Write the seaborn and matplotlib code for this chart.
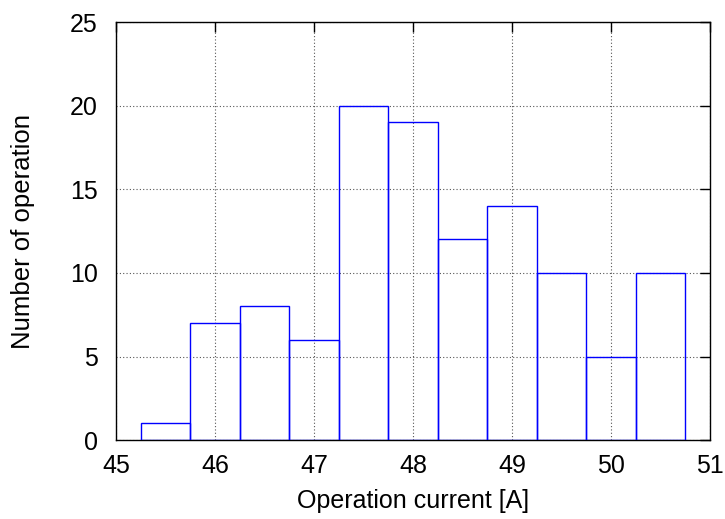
import matplotlib
matplotlib.use("Agg")
import matplotlib.pyplot as plt
import seaborn as sns

# Histogram of operation current: bin edges and counts per bin
bin_edges = [45.25, 45.75, 46.25, 46.75, 47.25, 47.75, 48.25, 48.75, 49.25, 49.75, 50.25, 50.75]
counts = [1, 7, 8, 6, 20, 19, 12, 14, 10, 5, 10]
x_ticks = [45, 46, 47, 48, 49, 50, 51]
y_ticks = [0, 5, 10, 15, 20, 25]

sns.set_theme(style="white")
plt.rcParams["font.family"] = ["Liberation Sans", "DejaVu Sans"]
plt.rcParams["text.color"] = "black"
plt.rcParams["axes.labelcolor"] = "black"

centers = [(a + b) / 2 for a, b in zip(bin_edges[:-1], bin_edges[1:])]

fig = plt.figure(figsize=(7.25, 5.19), dpi=100)
ax = fig.add_axes([0.160, 0.152, 0.8193, 0.8054])

sns.histplot(x=centers, weights=counts, bins=bin_edges, fill=False,
             color="blue", linewidth=1.0, ax=ax, zorder=3)

ax.set_xlim(45, 51)
ax.set_ylim(0, 25)
ax.set_xticks(x_ticks)
ax.set_yticks(y_ticks)
ax.grid(True, linestyle=(0, (1, 2)), color="#555555", linewidth=0.8, zorder=0)
ax.set_axisbelow(True)
ax.tick_params(direction="in", length=7, width=1, top=True, right=True,
               labelsize=18, colors="black")
ax.tick_params(axis="x", pad=10)
ax.tick_params(axis="y", pad=13)
for s in ax.spines.values():
    s.set_color("black")
    s.set_linewidth(1.0)

ax.set_xlabel("Operation current [A]", fontsize=18, labelpad=8)
ax.set_ylabel("Number of operation", fontsize=18.5, labelpad=25)

fig.savefig("out.png", dpi=100)
